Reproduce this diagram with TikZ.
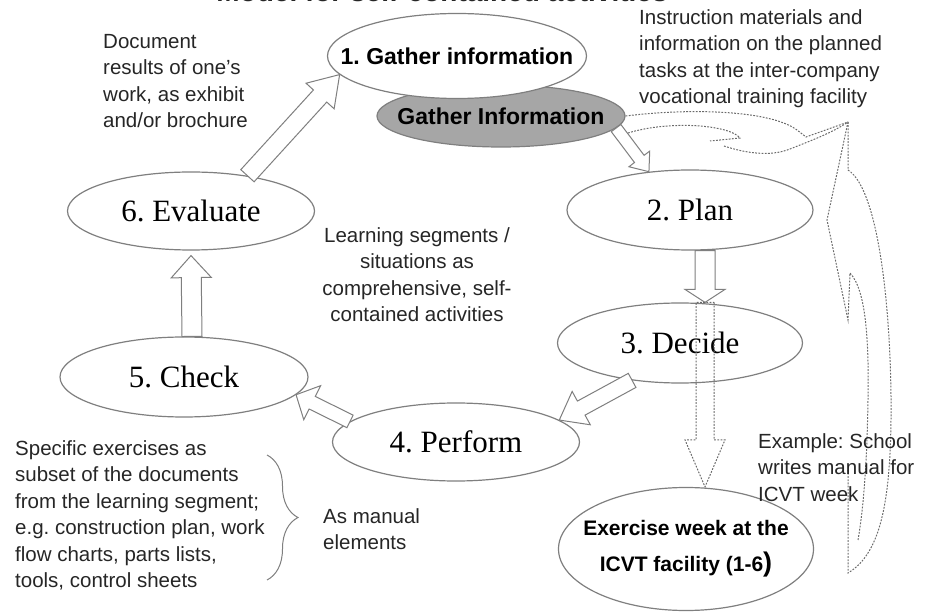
\documentclass[tikz,border=0pt]{standalone}
\usepackage{fontspec}
\setmainfont{Liberation Serif}
\setsansfont{Liberation Sans}
\usepackage{tikz}
\usetikzlibrary{shapes.geometric,calc,decorations.pathreplacing}
\definecolor{linegray}{HTML}{7F7F7F}
\definecolor{dotgray}{HTML}{6A6A6A}
\definecolor{shadegray}{HTML}{A6A6A6}
\frenchspacing
\tikzset{
  phase/.style={ellipse, draw=linegray, line width=1.2pt, fill=white, inner sep=-40pt,
    minimum width=247pt, minimum height=79pt, font=\fontsize{31}{31}\selectfont},
  phasebold/.style={phase, font=\sffamily\bfseries\fontsize{23}{23}\selectfont},
  note/.style={font=\sffamily\fontsize{20.5}{26.5}\selectfont, text=black!85, inner sep=0pt,
    align=left, anchor=north west},
  aw/.store in=\aw, ah/.store in=\ah, al/.store in=\al,
  aw=7pt, ah=14pt, al=16pt,
  blockarrow/.style={draw=linegray, fill=white, line width=1pt,
    to path={($(\tikztostart)!\aw!90:(\tikztotarget)$)
      -- ($(\tikztotarget)!\al!(\tikztostart)!\aw!-90:(\tikztostart)$)
      -- ($(\tikztotarget)!\al!(\tikztostart)!\ah!-90:(\tikztostart)$)
      -- (\tikztotarget)
      -- ($(\tikztotarget)!\al!(\tikztostart)!\ah!90:(\tikztostart)$)
      -- ($(\tikztotarget)!\al!(\tikztostart)!\aw!90:(\tikztostart)$)
      -- ($(\tikztostart)!\aw!-90:(\tikztotarget)$) -- cycle}},
  dotarrow/.style={blockarrow, fill=none, draw=dotgray, dash pattern=on 1.8pt off 1.4pt},
  curvedash/.style={draw=dotgray, line width=1pt, dash pattern=on 1.8pt off 1.4pt}
}

\begin{document}
\begin{tikzpicture}[x=1pt,y=-1pt]
	\useasboundingbox (0,0) rectangle (935,612);
	\node[font=\sffamily\bfseries\fontsize{28}{28}\selectfont, text=black!85, anchor=base] (title) at (442,2) {Model for self-contained activities};

	% the six phases
	\node[phasebold, fill=shadegray, minimum width=248pt, minimum height=62pt] (gathershade) at (501,116) {Gather Information};
	\node[phasebold, minimum width=259pt, minimum height=85pt] (gather) at (457,56) {1. Gather information};
	\node[phase, minimum width=246pt, minimum height=80pt] (plan) at (690,210) {2. Plan};
	\node[phase, minimum width=245pt, minimum height=80pt] (decide) at (680,343) {3. Decide};
	\node[phase, minimum width=247pt, minimum height=78pt] (perform) at (456,442) {4. Perform};
	\node[phase, minimum width=248pt, minimum height=80pt] (check) at (184,377) {5. Check};
	\node[phase, minimum width=247pt, minimum height=78pt] (evaluate) at (191,211) {6. Evaluate};
	\node[phasebold, minimum width=255pt, minimum height=123pt, align=center,
		font=\sffamily\bfseries\fontsize{21}{36}\selectfont] (exercise) at (686,549)
		{Exercise week at the\\ICVT facility (1-6{\fontsize{27}{27}\selectfont)}};

	% block arrows
	\draw[blockarrow, aw=6pt, ah=13pt, al=16pt] (gathershade.-6) to (plan.137);
	\draw[blockarrow, aw=10pt, ah=20pt, al=13pt] ([xshift=15pt]plan.south) to ([xshift=25pt]decide.north);
	\draw[dotarrow, aw=9pt, ah=20pt, al=47pt] ([xshift=25pt]decide.north) to ([xshift=19pt]exercise.north);
	\draw[blockarrow, aw=8pt, ah=19pt, al=25pt] (decide.218) to (perform.12);
	\draw[blockarrow, aw=7pt, ah=19pt, al=18pt] (perform.169) to (check.-9);
	\draw[blockarrow, aw=10pt, ah=20pt, al=22pt] ([xshift=8pt]check.north) to ([yshift=-5pt]evaluate.south);
	\draw[blockarrow, aw=9pt, ah=19pt, al=29pt] (evaluate.32) to (gather.189);

	% dotted curved arrow on the right
	\draw[curvedash] (gathershade.east) .. controls (690,108) and (770,110) .. (797,130) -- (806,137) -- (848,122);
	\draw[curvedash] (628,133) .. controls (670,120) and (730,125) .. (740,138) -- (710,141);
	\draw[curvedash] (724,146) .. controls (745,153) and (770,157) .. (790,149) .. controls (810,141) and (832,133) .. (848,122);
	\draw[curvedash] (848,122) -- (848,170) .. controls (880,190) and (892,320) .. (891,420)
		.. controls (890,510) and (878,555) .. (848,573) -- (848,470);
	\draw[curvedash] (848,122) -- (827,220) -- (848,320) -- (850,273) .. controls (866,290) and (869,340) .. (868,400)
		.. controls (867,460) and (864,505) .. (858,540);

	% brace
	\coordinate (bracetop) at (267,455);
	\coordinate (bracebot) at (267,580);
	\draw[linegray, line width=1pt, decorate, decoration={brace, amplitude=31pt}] (bracetop) -- (bracebot);

	% notes
	\node[note] (results) at (103,34) {Document\\results of one's\\work, as exhibit\\and/or brochure};
	\node[note] (materials) at (639,9) {Instruction materials and\\information on the planned\\tasks at the inter-company\\vocational training facility};
	\node[note, align=center, anchor=north] (segments) at (417,227) {Learning segments /\\situations as\\comprehensive, self-\\contained activities};
	\node[note] (exercises) at (15,440) {Specific exercises as\\subset of the documents\\from the learning segment;\\e.g. construction plan, work\\flow charts, parts lists,\\tools, control sheets};
	\node[note] (manual) at (323,508) {As manual\\elements};
	\node[note] (example) at (758,433) {Example: School\\writes manual for\\ICVT week};
\end{tikzpicture}
\end{document}
